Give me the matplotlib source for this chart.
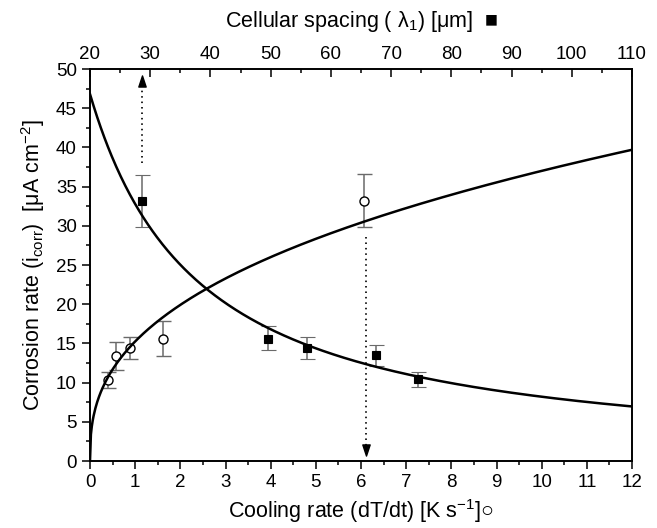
import numpy as np
import matplotlib
matplotlib.use('Agg')
import matplotlib.pyplot as plt
from matplotlib.path import Path
from matplotlib.ticker import MultipleLocator

plt.rcParams['font.family'] = ['Liberation Sans', 'DejaVu Sans']
plt.rcParams['mathtext.fontset'] = 'custom'
plt.rcParams['mathtext.rm'] = 'Liberation Sans'
plt.rcParams['mathtext.it'] = 'Liberation Sans:italic'
plt.rcParams['mathtext.bf'] = 'Liberation Sans:bold'

# ---- data ----
cooling_rate = [0.39, 0.58, 0.89, 1.62, 6.07]          # K/s (open circles)
icorr_cool = [10.3, 13.45, 14.4, 15.6, 33.2]
icorr_cool_lo = [9.3, 11.65, 13.0, 13.4, 29.9]
icorr_cool_hi = [11.4, 15.2, 15.8, 17.8, 36.6]

cell_spacing = [28.65, 49.5, 56.0, 67.5, 74.4]          # um (filled squares)
icorr_sp = [33.2, 15.6, 14.4, 13.5, 10.4]
icorr_sp_lo = [29.9, 14.1, 13.0, 12.1, 9.4]
icorr_sp_hi = [36.5, 17.2, 15.8, 14.8, 11.3]

# fitted power-law curves (coefficients)
fit_cool_coef, fit_cool_exp = 15.25, 0.385
fit_sp_ref, fit_sp_value_at_ref, fit_sp_exp = 20.0, 46.8, -1.118

# dotted arrows: (x, y_start, y_tip)
arrow_spacing = [28.65, 38.0, 49.0]     # on the top (spacing) axis, pointing up
arrow_cooling = [6.1, 28.6, 0.9]        # on the bottom (cooling) axis, pointing down

x_ticks_bottom = list(range(0, 13))
x_ticks_top = list(range(20, 111, 10))
y_ticks = list(range(0, 51, 5))

# ---- figure ----
W, H = 657, 528
fig = plt.figure(figsize=(W / 100, H / 100), dpi=100)
ax = fig.add_axes([90 / W, 1 - 461 / H, 542 / W, 392 / H])
ax2 = ax.twiny()

ax.set_xlim(0, 12)
ax.set_ylim(0, 50)
ax2.set_xlim(20, 110)

err_col = '#6a6a6a'

# circles vs cooling rate
yerr_c = [np.array(icorr_cool) - np.array(icorr_cool_lo),
          np.array(icorr_cool_hi) - np.array(icorr_cool)]
ax.errorbar(cooling_rate, icorr_cool, yerr=yerr_c, fmt='o', ms=6.5,
            mfc='white', mec='black', mew=1.0, ecolor=err_col,
            elinewidth=1.1, capsize=5.4, capthick=1.1, zorder=2)

# squares vs spacing
yerr_s = [np.array(icorr_sp) - np.array(icorr_sp_lo),
          np.array(icorr_sp_hi) - np.array(icorr_sp)]
ax2.errorbar(cell_spacing, icorr_sp, yerr=yerr_s, fmt='s', ms=6.0,
             mfc='black', mec='black', mew=0.8, ecolor=err_col,
             elinewidth=1.1, capsize=5.4, capthick=1.1, zorder=2)

# fitted curves
xc = np.linspace(0, 12, 600)
ax.plot(xc, fit_cool_coef * xc ** fit_cool_exp, color='black', lw=1.8, zorder=4)
xs = np.linspace(20, 110, 600)
ax2.plot(xs, fit_sp_value_at_ref * (xs / fit_sp_ref) ** fit_sp_exp,
         color='black', lw=1.8, zorder=4)

# dotted arrows
tri_up = Path([(-0.33, -0.5), (0.33, -0.5), (0.0, 0.5), (-0.33, -0.5)],
              [Path.MOVETO, Path.LINETO, Path.LINETO, Path.CLOSEPOLY])
tri_dn = Path([(-0.33, 0.5), (0.33, 0.5), (0.0, -0.5), (-0.33, 0.5)],
              [Path.MOVETO, Path.LINETO, Path.LINETO, Path.CLOSEPOLY])
xa, y0, y1 = arrow_spacing
ax2.plot([xa, xa], [y0, y1 - 1.0], color='#222222', lw=1.4,
         ls=(0, (0.8, 2.0)), zorder=3)
ax2.plot([xa], [y1 - 0.55], marker=tri_up, ms=8, color='black', zorder=3)
xa, y0, y1 = arrow_cooling
ax.plot([xa, xa], [y0, y1 + 1.0], color='#222222', lw=1.4,
        ls=(0, (0.8, 2.0)), zorder=3)
ax.plot([xa], [y1 + 0.55], marker=tri_dn, ms=8, color='black', zorder=3)

# ticks / spines
for a in (ax, ax2):
    for s in a.spines.values():
        s.set_linewidth(1.2)
ax.set_xticks(x_ticks_bottom)
ax.set_yticks(y_ticks)
ax.xaxis.set_minor_locator(MultipleLocator(0.5))
ax.yaxis.set_minor_locator(MultipleLocator(2.5))
ax.tick_params(axis='both', which='major', direction='out', length=6, width=1.1,
               labelsize=13.5, pad=3.5)
ax.tick_params(axis='both', which='minor', direction='out', length=3.2, width=1.1)
ax.tick_params(axis='x', top=False, which='both')
ax.tick_params(axis='y', right=False, which='both')

ax2.set_xticks(x_ticks_top)
ax2.xaxis.set_minor_locator(MultipleLocator(5))
ax2.tick_params(axis='x', which='major', direction='in', length=6, width=1.1,
                labelsize=13.5, pad=4)
ax2.tick_params(axis='x', which='minor', direction='in', length=3.2, width=1.1)

ax.set_xlabel('Cooling rate (dT/dt) [K s$^{\\mathregular{-1}}$]\u25CB', fontsize=15.5, labelpad=4)
ax.set_ylabel('Corrosion rate (i$_{\\mathregular{corr}}$)  [\u03bcA cm$^{\\mathregular{-2}}$]',
              fontsize=15.5, labelpad=6)
ax2.set_xlabel('Cellular spacing ( \u03bb$_{\\mathregular{1}}$) [\u03bcm]  \u25A0',
               fontsize=15.5, labelpad=14)

fig.savefig('out.png', dpi=100)
